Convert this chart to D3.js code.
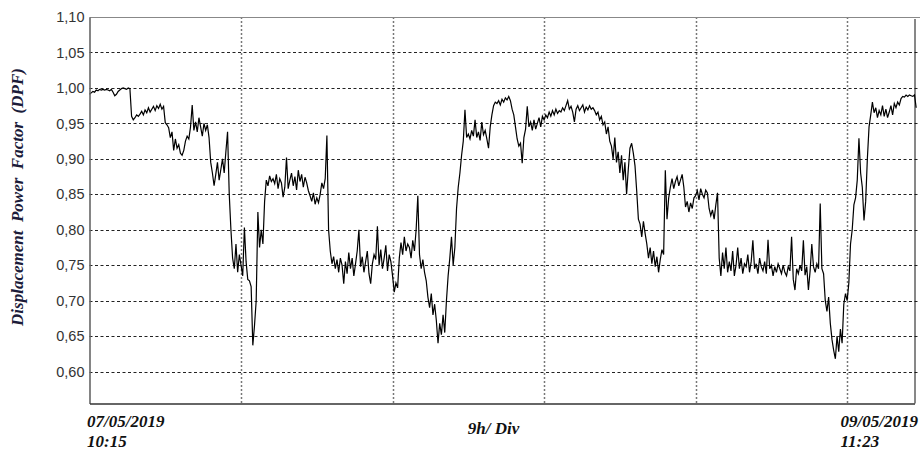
<!DOCTYPE html>
<html>
<head>
<meta charset="utf-8">
<script src="https://cdn.jsdelivr.net/npm/d3@7"></script>
<style>
  html, body { margin: 0; padding: 0; background: #fff; }
  svg { display: block; }
</style>
</head>
<body>
<svg id="chart" width="922" height="452"></svg>
<script>
// ---- DATA ----
const yTicks = [0.60, 0.65, 0.70, 0.75, 0.80, 0.85, 0.90, 0.95, 1.00, 1.05, 1.10];
const xDivisionsHours = [9, 18, 27, 36, 45];
const startLabel = ["07/05/2019", "10:15"];
const endLabel = ["09/05/2019", "11:23"];
const xAxisTitle = "9h/ Div";
const yAxisTitle = "Displacement  Power  Factor  (DPF)";
const sampleStepHours = 0.1; // one reading every 6 minutes
// DPF readings, hour by hour (10 readings per hour)
const dpf = [
  0.991,0.993,0.995,0.994,0.997,0.996,0.998,0.997,0.998,0.997,
  0.998,0.997,0.996,0.998,0.994,0.989,0.991,0.995,0.997,0.999,
  1.000,0.999,0.998,1.000,0.999,0.960,0.955,0.958,0.962,0.960,
  0.963,0.967,0.962,0.969,0.965,0.972,0.966,0.970,0.974,0.968,
  0.975,0.971,0.977,0.970,0.974,0.951,0.948,0.944,0.930,0.938,
  0.912,0.928,0.915,0.920,0.908,0.905,0.912,0.925,0.932,0.928,
  0.945,0.976,0.940,0.952,0.938,0.958,0.945,0.932,0.950,0.940,
  0.948,0.930,0.895,0.880,0.862,0.878,0.895,0.870,0.885,0.900,
  0.880,0.910,0.938,0.850,0.800,0.760,0.745,0.780,0.740,0.765,
  0.750,0.735,0.803,0.755,0.730,0.728,0.720,0.637,0.665,0.700,
  0.825,0.775,0.800,0.780,0.840,0.870,0.862,0.876,0.868,0.872,
  0.865,0.878,0.858,0.872,0.866,0.846,0.860,0.902,0.858,0.870,
  0.880,0.862,0.875,0.856,0.884,0.868,0.878,0.860,0.874,0.866,
  0.855,0.848,0.840,0.852,0.836,0.845,0.838,0.850,0.866,0.858,
  0.872,0.933,0.800,0.770,0.752,0.762,0.745,0.758,0.740,0.760,
  0.750,0.724,0.755,0.738,0.768,0.745,0.760,0.735,0.752,0.770,
  0.800,0.748,0.762,0.740,0.755,0.770,0.738,0.724,0.752,0.765,
  0.758,0.805,0.750,0.772,0.745,0.760,0.778,0.742,0.765,0.755,
  0.735,0.712,0.725,0.718,0.760,0.782,0.765,0.790,0.770,0.780,
  0.775,0.760,0.785,0.770,0.800,0.848,0.765,0.745,0.758,0.740,
  0.728,0.705,0.690,0.710,0.680,0.695,0.672,0.640,0.668,0.652,
  0.680,0.655,0.700,0.735,0.760,0.790,0.750,0.775,0.830,0.860,
  0.880,0.905,0.925,0.969,0.930,0.935,0.928,0.940,0.932,0.955,
  0.930,0.938,0.926,0.952,0.934,0.940,0.928,0.915,0.945,0.962,
  0.975,0.980,0.978,0.982,0.976,0.984,0.980,0.986,0.983,0.988,
  0.982,0.970,0.962,0.945,0.928,0.918,0.922,0.894,0.930,0.942,
  0.974,0.945,0.952,0.940,0.955,0.942,0.950,0.958,0.945,0.960,
  0.955,0.962,0.958,0.966,0.960,0.968,0.962,0.970,0.964,0.968,
  0.966,0.972,0.968,0.975,0.982,0.970,0.974,0.966,0.952,0.970,
  0.975,0.968,0.972,0.976,0.966,0.973,0.969,0.975,0.970,0.972,
  0.968,0.962,0.966,0.955,0.960,0.948,0.952,0.935,0.945,0.925,
  0.918,0.900,0.930,0.895,0.910,0.880,0.905,0.870,0.895,0.850,
  0.885,0.915,0.922,0.908,0.890,0.855,0.815,0.808,0.790,0.812,
  0.795,0.780,0.760,0.775,0.752,0.770,0.748,0.762,0.740,0.758,
  0.772,0.765,0.884,0.815,0.845,0.860,0.872,0.858,0.868,0.875,
  0.862,0.870,0.878,0.860,0.832,0.840,0.825,0.838,0.830,0.845,
  0.848,0.855,0.842,0.858,0.850,0.845,0.856,0.852,0.830,0.820,
  0.828,0.815,0.835,0.852,0.760,0.735,0.768,0.745,0.775,0.740,
  0.755,0.742,0.770,0.735,0.750,0.775,0.745,0.760,0.738,0.752,
  0.748,0.765,0.740,0.755,0.785,0.745,0.752,0.738,0.760,0.748,
  0.742,0.755,0.738,0.786,0.745,0.750,0.735,0.748,0.740,0.752,
  0.745,0.738,0.750,0.740,0.735,0.748,0.742,0.790,0.730,0.715,
  0.745,0.738,0.750,0.742,0.785,0.736,0.748,0.715,0.742,0.780,
  0.748,0.740,0.752,0.745,0.837,0.745,0.738,0.700,0.685,0.705,
  0.668,0.645,0.630,0.618,0.650,0.628,0.660,0.640,0.695,0.710,
  0.700,0.725,0.780,0.800,0.835,0.845,0.870,0.929,0.880,0.860,
  0.813,0.840,0.900,0.945,0.962,0.980,0.965,0.972,0.958,0.968,
  0.962,0.975,0.960,0.970,0.958,0.966,0.975,0.962,0.978,0.972,
  0.980,0.976,0.985,0.988,0.987,0.990,0.988,0.990,0.989,0.988,
  0.990,0.972
];

// ---- CHART ----
const svg = d3.select("#chart");
const pLeft = 89.5, pRight = 914.5, pTop = 17, pBottom = 403.5;

const x = d3.scaleLinear().domain([0, 49]).range([pLeft, pRight]);
const y = d3.scaleLinear().domain([0.555, 1.10]).range([pBottom, pTop]);

const fmt = v => d3.format(".2f")(v).replace(".", ",");

// horizontal dashed gridlines
svg.append("g").selectAll("line")
  .data(yTicks.filter(v => v < 1.10))
  .join("line")
  .attr("x1", pLeft).attr("x2", pRight + 5)
  .attr("y1", d => Math.round(y(d)) + 0.5).attr("y2", d => Math.round(y(d)) + 0.5)
  .attr("stroke", "#222").attr("stroke-width", 1)
  .attr("stroke-dasharray", "3,2.5");

// vertical dotted gridlines
svg.append("g").selectAll("line")
  .data(xDivisionsHours)
  .join("line")
  .attr("x1", d => Math.round(x(d)) + 0.5).attr("x2", d => Math.round(x(d)) + 0.5)
  .attr("y1", pTop).attr("y2", pBottom)
  .attr("stroke", "#777").attr("stroke-width", 1.5)
  .attr("stroke-dasharray", "2,2");

// frame
svg.append("line").attr("x1", pLeft).attr("x2", 920).attr("y1", pTop + 0.5).attr("y2", pTop + 0.5)
  .attr("stroke", "#888").attr("stroke-width", 1);
svg.append("line").attr("x1", pRight + 0.5).attr("x2", pRight + 0.5).attr("y1", pTop + 2).attr("y2", pBottom)
  .attr("stroke", "#111").attr("stroke-width", 1);

// data line
const line = d3.line()
  .x((d, i) => x(i * sampleStepHours))
  .y(d => y(d));
svg.append("path")
  .datum(dpf)
  .attr("d", line)
  .attr("fill", "none")
  .attr("stroke", "#000")
  .attr("stroke-width", 1.2)
  .attr("stroke-linejoin", "miter");

// y axis
const yAxis = d3.axisLeft(y).tickValues(yTicks).tickFormat(fmt).tickSize(0).tickPadding(5);
const gy = svg.append("g").attr("transform", `translate(${pLeft},0)`).call(yAxis);
gy.select(".domain").attr("stroke", "#666").attr("stroke-width", 1.6);
gy.selectAll("text")
  .attr("font-family", "'Liberation Sans', Arial, sans-serif")
  .attr("font-size", 14.5)
  .attr("fill", "#333");

// x axis (baseline only, labels drawn separately)
const xAxis = d3.axisBottom(x).tickValues([]).tickSize(0);
const gx = svg.append("g").attr("transform", `translate(0,${pBottom})`).call(xAxis);
gx.select(".domain").attr("stroke", "#333").attr("stroke-width", 1.6);

// texts
const serif = "'Liberation Serif', 'Times New Roman', serif";
function twoLine(lines, xPos) {
  lines.forEach((t, i) => {
    svg.append("text")
      .attr("x", xPos).attr("y", 427 + i * 19.5)
      .attr("font-family", serif).attr("font-size", 17)
      .attr("font-weight", "bold").attr("font-style", "italic")
      .attr("fill", "#111")
      .text(t);
  });
}
twoLine(startLabel, x(0) - 2.5);
twoLine(endLabel, 840.5);

svg.append("text")
  .attr("x", 493.5).attr("y", 434)
  .attr("text-anchor", "middle")
  .attr("font-family", serif).attr("font-size", 17)
  .attr("font-weight", "bold").attr("font-style", "italic")
  .attr("fill", "#111")
  .text(xAxisTitle);

svg.append("text")
  .attr("transform", "translate(23,197) rotate(-90)")
  .attr("text-anchor", "middle")
  .attr("font-family", serif).attr("font-size", 17)
  .attr("font-weight", "bold").attr("font-style", "italic")
  .attr("fill", "#1c1c3a")
  .style("white-space", "pre")
  .text(yAxisTitle);
</script>
</body>
</html>
